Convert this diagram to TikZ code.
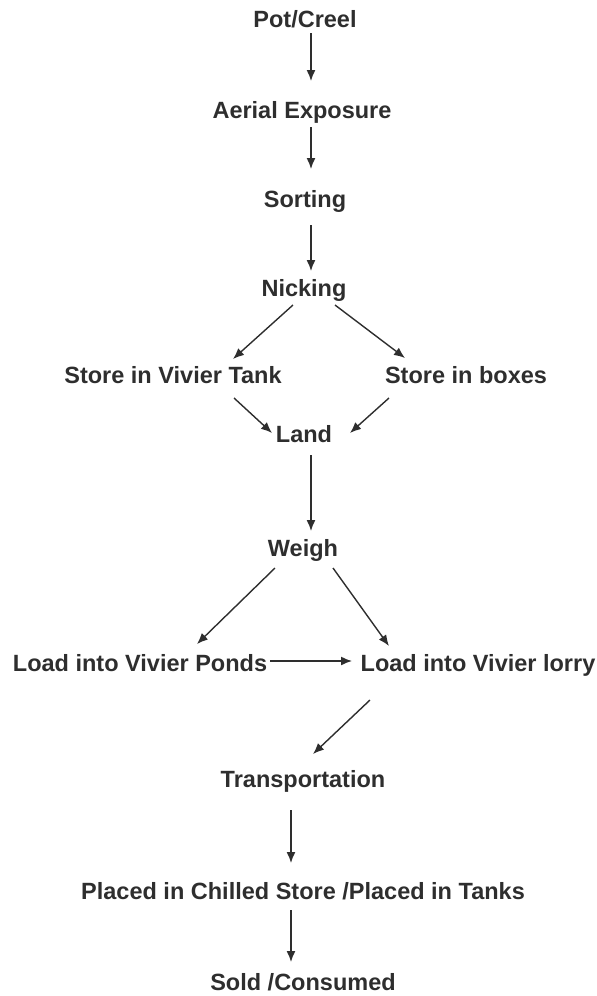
\documentclass[tikz,border=0pt]{standalone}
\usepackage{fontspec}
\setmainfont{Liberation Sans}
\usetikzlibrary{arrows.meta,calc}
\begin{document}
\begin{tikzpicture}[x=1pt,y=-1pt,
  lbl/.style={anchor=base,inner sep=0pt,font=\fontsize{23.5}{28}\selectfont\bfseries,text=black!82},
  arr/.style={draw=black!82,line width=1.4pt,-{Latex[length=11pt,width=9pt]}}]
\useasboundingbox (0,0) rectangle (597,996);
\node[lbl] (pot) at (305,27) {Pot/Creel};
\node[lbl] (aer) at (302,118) {Aerial Exposure};
\node[lbl] (sor) at (305,207) {Sorting};
\node[lbl] (nic) at (304,296) {Nicking};
\node[lbl] (tank) at (173,383) {Store in Vivier Tank};
\node[lbl] (box) at (466,383) {Store in boxes};
\node[lbl] (land) at (304,442) {Land};
\node[lbl] (wei) at (303,556) {Weigh};
\node[lbl] (pond) at (140,671) {Load into Vivier Ponds};
\node[lbl] (lorry) at (478,671) {Load into Vivier lorry};
\node[lbl] (tra) at (303,787) {Transportation};
\node[lbl] (pla) at (303,899) {Placed in Chilled Store /Placed in Tanks};
\node[lbl] (sold) at (303,990) {Sold /Consumed};
% connectors
\draw[arr] ($(pot.base)+(6,6)$) -- ($(aer.base)+(9,-37)$);
\draw[arr] ($(aer.base)+(9,9)$) -- ($(sor.base)+(6,-38)$);
\draw[arr] ($(sor.base)+(6,18)$) -- ($(nic.base)+(7,-25)$);
\draw[arr] ($(nic.base)+(-11,9)$) -- ($(tank.base)+(60,-24)$);
\draw[arr] ($(nic.base)+(31,9)$) -- ($(box.base)+(-61,-25)$);
\draw[arr] ($(tank.base)+(61,15)$) -- ($(land.base)+(-32,-9)$);
\draw[arr] ($(box.base)+(-77,15)$) -- ($(land.base)+(46,-9)$);
\draw[arr] ($(land.base)+(7,13)$) -- ($(wei.base)+(8,-25)$);
\draw[arr] ($(wei.base)+(-28,12)$) -- ($(pond.base)+(57,-27)$);
\draw[arr] ($(wei.base)+(30,12)$) -- ($(lorry.base)+(-89,-25)$);
\draw[arr] ($(pond.base)+(130,-10)$) -- ($(lorry.base)+(-126,-10)$);
\draw[arr] ($(lorry.base)+(-108,29)$) -- ($(tra.base)+(10,-33)$);
\draw[arr] ($(tra.base)+(-12,23)$) -- ($(pla.base)+(-12,-36)$);
\draw[arr] ($(pla.base)+(-12,11)$) -- ($(sold.base)+(-12,-28)$);
\end{tikzpicture}
\end{document}
